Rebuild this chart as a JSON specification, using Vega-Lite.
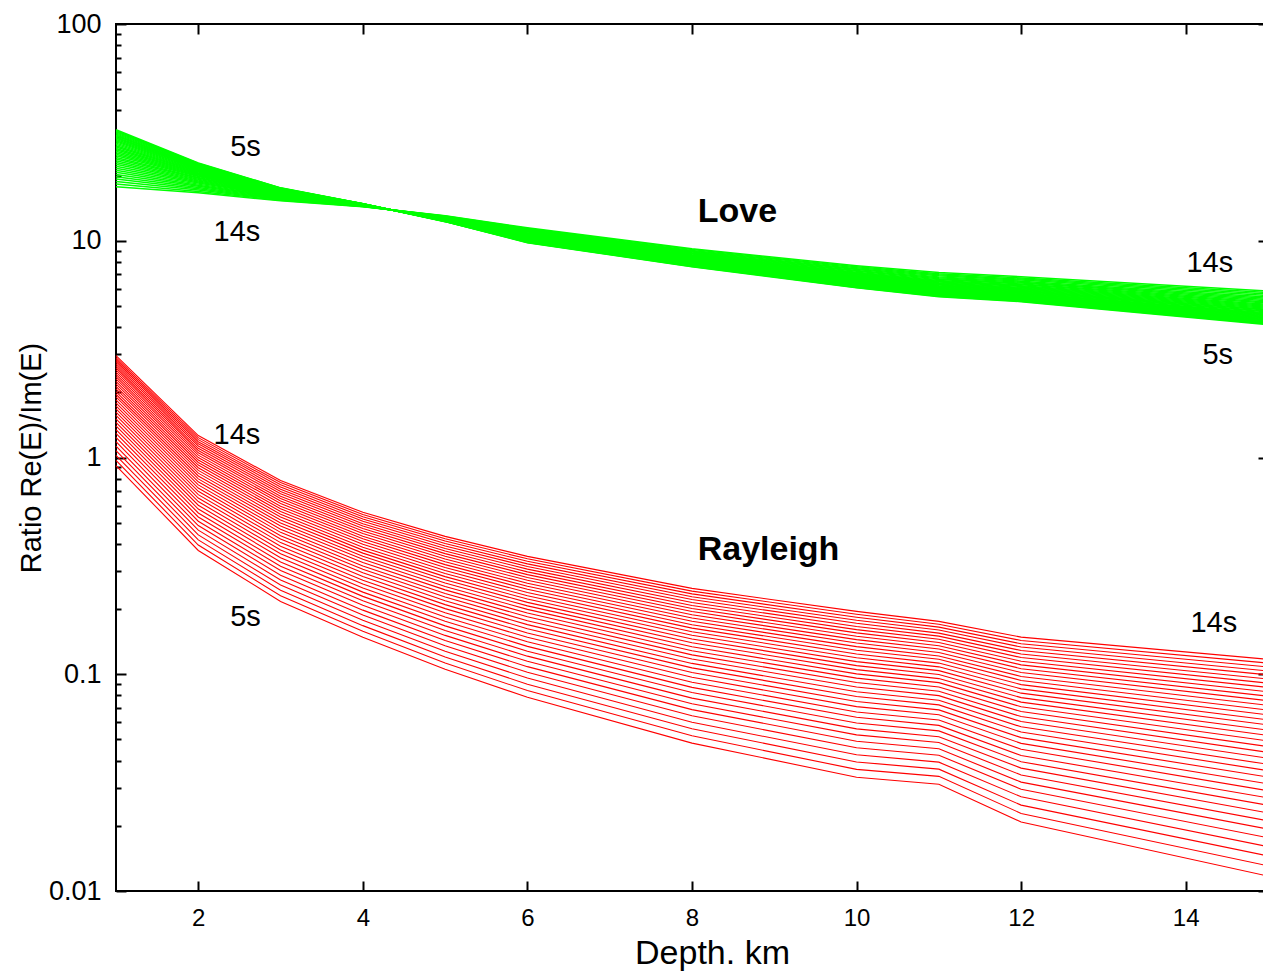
{
"$schema": "https://vega.github.io/schema/vega-lite/v6.json",
"width": 1152,
"height": 867,
"autosize": {"type": "none"},
"padding": {"left": 116, "top": 24, "right": -5, "bottom": 85},
"background": "white",
"config": {
  "view": {"stroke": "#000000", "strokeWidth": 2},
  "font": "Liberation Sans",
  "axis": {"domain": false, "grid": false, "tickColor": "#000000", "tickWidth": 2, "labelColor": "#000000", "titleColor": "#000000", "labelFont": "Liberation Sans", "titleFont": "Liberation Sans", "titleFontWeight": "normal", "labelFlush": false, "labelOverlap": false},
  "text": {"font": "Liberation Sans", "color": "#000000"}
},
"datasets": {
"curves": [
{"T":5,"d":1,"L":32.54,"R":0.918},{"T":5.25,"d":1,"L":32.17,"R":0.97},{"T":5.5,"d":1,"L":31.82,"R":1.023},{"T":5.75,"d":1,"L":31.47,"R":1.076},{"T":6,"d":1,"L":31.12,"R":1.129},{"T":6.25,"d":1,"L":30.77,"R":1.183},{"T":6.5,"d":1,"L":30.41,"R":1.237},{"T":6.75,"d":1,"L":30.05,"R":1.291},{"T":7,"d":1,"L":29.69,"R":1.345},{"T":7.25,"d":1,"L":29.32,"R":1.4},{"T":7.5,"d":1,"L":28.95,"R":1.454},{"T":7.75,"d":1,"L":28.58,"R":1.509},{"T":8,"d":1,"L":28.21,"R":1.564},{"T":8.25,"d":1,"L":27.83,"R":1.62},{"T":8.5,"d":1,"L":27.45,"R":1.676},{"T":8.75,"d":1,"L":27.06,"R":1.732},{"T":9,"d":1,"L":26.67,"R":1.788},{"T":9.25,"d":1,"L":26.28,"R":1.844},{"T":9.5,"d":1,"L":25.88,"R":1.902},{"T":9.75,"d":1,"L":25.48,"R":1.958},{"T":10,"d":1,"L":25.07,"R":2.015},{"T":10.25,"d":1,"L":24.66,"R":2.073},{"T":10.5,"d":1,"L":24.24,"R":2.13},{"T":10.75,"d":1,"L":23.82,"R":2.188},{"T":11,"d":1,"L":23.39,"R":2.245},{"T":11.25,"d":1,"L":22.96,"R":2.303},{"T":11.5,"d":1,"L":22.52,"R":2.361},{"T":11.75,"d":1,"L":22.08,"R":2.419},{"T":12,"d":1,"L":21.62,"R":2.478},{"T":12.25,"d":1,"L":21.17,"R":2.536},{"T":12.5,"d":1,"L":20.7,"R":2.595},{"T":12.75,"d":1,"L":20.23,"R":2.655},{"T":13,"d":1,"L":19.75,"R":2.713},{"T":13.25,"d":1,"L":19.26,"R":2.773},{"T":13.5,"d":1,"L":18.77,"R":2.832},{"T":13.75,"d":1,"L":18.26,"R":2.891},{"T":14,"d":1,"L":17.74,"R":2.951},
{"T":5,"d":2,"L":22.86,"R":0.3724},{"T":5.25,"d":2,"L":22.73,"R":0.3946},{"T":5.5,"d":2,"L":22.6,"R":0.4169},{"T":5.75,"d":2,"L":22.47,"R":0.4394},{"T":6,"d":2,"L":22.34,"R":0.4623},{"T":6.25,"d":2,"L":22.21,"R":0.4852},{"T":6.5,"d":2,"L":22.07,"R":0.5081},{"T":6.75,"d":2,"L":21.93,"R":0.5315},{"T":7,"d":2,"L":21.79,"R":0.5549},{"T":7.25,"d":2,"L":21.65,"R":0.5785},{"T":7.5,"d":2,"L":21.51,"R":0.6021},{"T":7.75,"d":2,"L":21.37,"R":0.626},{"T":8,"d":2,"L":21.22,"R":0.65},{"T":8.25,"d":2,"L":21.07,"R":0.6742},{"T":8.5,"d":2,"L":20.91,"R":0.6985},{"T":8.75,"d":2,"L":20.76,"R":0.7229},{"T":9,"d":2,"L":20.6,"R":0.7475},{"T":9.25,"d":2,"L":20.44,"R":0.7721},{"T":9.5,"d":2,"L":20.28,"R":0.7969},{"T":9.75,"d":2,"L":20.11,"R":0.8219},{"T":10,"d":2,"L":19.94,"R":0.8468},{"T":10.25,"d":2,"L":19.77,"R":0.872},{"T":10.5,"d":2,"L":19.59,"R":0.8972},{"T":10.75,"d":2,"L":19.41,"R":0.9228},{"T":11,"d":2,"L":19.23,"R":0.9482},{"T":11.25,"d":2,"L":19.04,"R":0.9736},{"T":11.5,"d":2,"L":18.85,"R":0.9993},{"T":11.75,"d":2,"L":18.66,"R":1.025},{"T":12,"d":2,"L":18.45,"R":1.051},{"T":12.25,"d":2,"L":18.25,"R":1.077},{"T":12.5,"d":2,"L":18.04,"R":1.103},{"T":12.75,"d":2,"L":17.82,"R":1.13},{"T":13,"d":2,"L":17.6,"R":1.156},{"T":13.25,"d":2,"L":17.37,"R":1.182},{"T":13.5,"d":2,"L":17.14,"R":1.209},{"T":13.75,"d":2,"L":16.89,"R":1.235},{"T":14,"d":2,"L":16.63,"R":1.262},
{"T":5,"d":3,"L":17.54,"R":0.2168},{"T":5.25,"d":3,"L":17.5,"R":0.2304},{"T":5.5,"d":3,"L":17.46,"R":0.2442},{"T":5.75,"d":3,"L":17.41,"R":0.258},{"T":6,"d":3,"L":17.37,"R":0.2721},{"T":6.25,"d":3,"L":17.32,"R":0.2864},{"T":6.5,"d":3,"L":17.28,"R":0.3008},{"T":6.75,"d":3,"L":17.23,"R":0.3153},{"T":7,"d":3,"L":17.18,"R":0.3299},{"T":7.25,"d":3,"L":17.13,"R":0.3447},{"T":7.5,"d":3,"L":17.08,"R":0.3595},{"T":7.75,"d":3,"L":17.03,"R":0.3745},{"T":8,"d":3,"L":16.98,"R":0.3897},{"T":8.25,"d":3,"L":16.93,"R":0.4049},{"T":8.5,"d":3,"L":16.87,"R":0.4203},{"T":8.75,"d":3,"L":16.82,"R":0.4358},{"T":9,"d":3,"L":16.77,"R":0.4514},{"T":9.25,"d":3,"L":16.71,"R":0.4671},{"T":9.5,"d":3,"L":16.65,"R":0.4829},{"T":9.75,"d":3,"L":16.59,"R":0.4988},{"T":10,"d":3,"L":16.53,"R":0.5148},{"T":10.25,"d":3,"L":16.47,"R":0.5309},{"T":10.5,"d":3,"L":16.4,"R":0.5471},{"T":10.75,"d":3,"L":16.34,"R":0.5635},{"T":11,"d":3,"L":16.27,"R":0.5798},{"T":11.25,"d":3,"L":16.2,"R":0.5963},{"T":11.5,"d":3,"L":16.13,"R":0.6129},{"T":11.75,"d":3,"L":16.06,"R":0.6295},{"T":12,"d":3,"L":15.98,"R":0.6464},{"T":12.25,"d":3,"L":15.91,"R":0.6631},{"T":12.5,"d":3,"L":15.83,"R":0.6801},{"T":12.75,"d":3,"L":15.74,"R":0.6971},{"T":13,"d":3,"L":15.65,"R":0.7142},{"T":13.25,"d":3,"L":15.56,"R":0.7313},{"T":13.5,"d":3,"L":15.48,"R":0.7487},{"T":13.75,"d":3,"L":15.38,"R":0.7659},{"T":14,"d":3,"L":15.28,"R":0.7834},
{"T":5,"d":4,"L":14.83,"R":0.1483},{"T":5.25,"d":4,"L":14.82,"R":0.1579},{"T":5.5,"d":4,"L":14.81,"R":0.1676},{"T":5.75,"d":4,"L":14.8,"R":0.1775},{"T":6,"d":4,"L":14.8,"R":0.1875},{"T":6.25,"d":4,"L":14.79,"R":0.1976},{"T":6.5,"d":4,"L":14.78,"R":0.2079},{"T":6.75,"d":4,"L":14.77,"R":0.2182},{"T":7,"d":4,"L":14.76,"R":0.2287},{"T":7.25,"d":4,"L":14.75,"R":0.2393},{"T":7.5,"d":4,"L":14.74,"R":0.2499},{"T":7.75,"d":4,"L":14.73,"R":0.2607},{"T":8,"d":4,"L":14.72,"R":0.2716},{"T":8.25,"d":4,"L":14.71,"R":0.2826},{"T":8.5,"d":4,"L":14.7,"R":0.2937},{"T":8.75,"d":4,"L":14.69,"R":0.3049},{"T":9,"d":4,"L":14.67,"R":0.3161},{"T":9.25,"d":4,"L":14.66,"R":0.3275},{"T":9.5,"d":4,"L":14.65,"R":0.3389},{"T":9.75,"d":4,"L":14.64,"R":0.3504},{"T":10,"d":4,"L":14.62,"R":0.3621},{"T":10.25,"d":4,"L":14.61,"R":0.3738},{"T":10.5,"d":4,"L":14.6,"R":0.3856},{"T":10.75,"d":4,"L":14.58,"R":0.3975},{"T":11,"d":4,"L":14.57,"R":0.4093},{"T":11.25,"d":4,"L":14.56,"R":0.4214},{"T":11.5,"d":4,"L":14.54,"R":0.4334},{"T":11.75,"d":4,"L":14.52,"R":0.4457},{"T":12,"d":4,"L":14.51,"R":0.4579},{"T":12.25,"d":4,"L":14.49,"R":0.4702},{"T":12.5,"d":4,"L":14.47,"R":0.4826},{"T":12.75,"d":4,"L":14.46,"R":0.4951},{"T":13,"d":4,"L":14.44,"R":0.5076},{"T":13.25,"d":4,"L":14.42,"R":0.5202},{"T":13.5,"d":4,"L":14.4,"R":0.533},{"T":13.75,"d":4,"L":14.37,"R":0.5456},{"T":14,"d":4,"L":14.35,"R":0.5585},
{"T":5,"d":5,"L":12.25,"R":0.1054},{"T":5.25,"d":5,"L":12.26,"R":0.1127},{"T":5.5,"d":5,"L":12.28,"R":0.1202},{"T":5.75,"d":5,"L":12.29,"R":0.1277},{"T":6,"d":5,"L":12.31,"R":0.1354},{"T":6.25,"d":5,"L":12.32,"R":0.1432},{"T":6.5,"d":5,"L":12.33,"R":0.1511},{"T":6.75,"d":5,"L":12.35,"R":0.1591},{"T":7,"d":5,"L":12.36,"R":0.1672},{"T":7.25,"d":5,"L":12.38,"R":0.1755},{"T":7.5,"d":5,"L":12.4,"R":0.1838},{"T":7.75,"d":5,"L":12.41,"R":0.1923},{"T":8,"d":5,"L":12.43,"R":0.2008},{"T":8.25,"d":5,"L":12.45,"R":0.2095},{"T":8.5,"d":5,"L":12.46,"R":0.2182},{"T":8.75,"d":5,"L":12.48,"R":0.2271},{"T":9,"d":5,"L":12.5,"R":0.236},{"T":9.25,"d":5,"L":12.52,"R":0.2451},{"T":9.5,"d":5,"L":12.54,"R":0.2542},{"T":9.75,"d":5,"L":12.56,"R":0.2634},{"T":10,"d":5,"L":12.58,"R":0.2727},{"T":10.25,"d":5,"L":12.6,"R":0.2821},{"T":10.5,"d":5,"L":12.62,"R":0.2915},{"T":10.75,"d":5,"L":12.65,"R":0.3012},{"T":11,"d":5,"L":12.67,"R":0.3107},{"T":11.25,"d":5,"L":12.7,"R":0.3205},{"T":11.5,"d":5,"L":12.72,"R":0.3303},{"T":11.75,"d":5,"L":12.75,"R":0.3402},{"T":12,"d":5,"L":12.77,"R":0.3501},{"T":12.25,"d":5,"L":12.8,"R":0.3602},{"T":12.5,"d":5,"L":12.83,"R":0.3703},{"T":12.75,"d":5,"L":12.86,"R":0.3805},{"T":13,"d":5,"L":12.89,"R":0.3908},{"T":13.25,"d":5,"L":12.93,"R":0.4011},{"T":13.5,"d":5,"L":12.96,"R":0.4115},{"T":13.75,"d":5,"L":13.0,"R":0.422},{"T":14,"d":5,"L":13.04,"R":0.4325},
{"T":5,"d":6,"L":9.795,"R":0.0783},{"T":5.25,"d":6,"L":9.82,"R":0.0841},{"T":5.5,"d":6,"L":9.85,"R":0.09},{"T":5.75,"d":6,"L":9.88,"R":0.096},{"T":6,"d":6,"L":9.91,"R":0.1021},{"T":6.25,"d":6,"L":9.94,"R":0.1084},{"T":6.5,"d":6,"L":9.968,"R":0.1147},{"T":6.75,"d":6,"L":9.999,"R":0.1212},{"T":7,"d":6,"L":10.03,"R":0.1278},{"T":7.25,"d":6,"L":10.06,"R":0.1345},{"T":7.5,"d":6,"L":10.1,"R":0.1413},{"T":7.75,"d":6,"L":10.13,"R":0.1481},{"T":8,"d":6,"L":10.17,"R":0.1551},{"T":8.25,"d":6,"L":10.2,"R":0.1623},{"T":8.5,"d":6,"L":10.24,"R":0.1694},{"T":8.75,"d":6,"L":10.28,"R":0.1767},{"T":9,"d":6,"L":10.32,"R":0.1841},{"T":9.25,"d":6,"L":10.36,"R":0.1916},{"T":9.5,"d":6,"L":10.4,"R":0.1992},{"T":9.75,"d":6,"L":10.44,"R":0.2068},{"T":10,"d":6,"L":10.49,"R":0.2146},{"T":10.25,"d":6,"L":10.53,"R":0.2224},{"T":10.5,"d":6,"L":10.58,"R":0.2304},{"T":10.75,"d":6,"L":10.63,"R":0.2384},{"T":11,"d":6,"L":10.68,"R":0.2466},{"T":11.25,"d":6,"L":10.73,"R":0.2546},{"T":11.5,"d":6,"L":10.79,"R":0.2629},{"T":11.75,"d":6,"L":10.84,"R":0.2713},{"T":12,"d":6,"L":10.9,"R":0.2797},{"T":12.25,"d":6,"L":10.96,"R":0.2882},{"T":12.5,"d":6,"L":11.03,"R":0.2967},{"T":12.75,"d":6,"L":11.09,"R":0.3055},{"T":13,"d":6,"L":11.16,"R":0.3142},{"T":13.25,"d":6,"L":11.24,"R":0.323},{"T":13.5,"d":6,"L":11.31,"R":0.332},{"T":13.75,"d":6,"L":11.4,"R":0.3409},{"T":14,"d":6,"L":11.48,"R":0.3499},
{"T":5,"d":8,"L":7.586,"R":0.0481},{"T":5.25,"d":8,"L":7.611,"R":0.052},{"T":5.5,"d":8,"L":7.637,"R":0.056},{"T":5.75,"d":8,"L":7.664,"R":0.0601},{"T":6,"d":8,"L":7.691,"R":0.0643},{"T":6.25,"d":8,"L":7.719,"R":0.0687},{"T":6.5,"d":8,"L":7.747,"R":0.0731},{"T":6.75,"d":8,"L":7.776,"R":0.0776},{"T":7,"d":8,"L":7.806,"R":0.0823},{"T":7.25,"d":8,"L":7.837,"R":0.087},{"T":7.5,"d":8,"L":7.868,"R":0.0919},{"T":7.75,"d":8,"L":7.9,"R":0.0968},{"T":8,"d":8,"L":7.933,"R":0.1018},{"T":8.25,"d":8,"L":7.967,"R":0.107},{"T":8.5,"d":8,"L":8.002,"R":0.1122},{"T":8.75,"d":8,"L":8.038,"R":0.1175},{"T":9,"d":8,"L":8.075,"R":0.1229},{"T":9.25,"d":8,"L":8.113,"R":0.1284},{"T":9.5,"d":8,"L":8.152,"R":0.134},{"T":9.75,"d":8,"L":8.193,"R":0.1397},{"T":10,"d":8,"L":8.234,"R":0.1454},{"T":10.25,"d":8,"L":8.278,"R":0.1513},{"T":10.5,"d":8,"L":8.322,"R":0.1572},{"T":10.75,"d":8,"L":8.368,"R":0.1633},{"T":11,"d":8,"L":8.416,"R":0.1693},{"T":11.25,"d":8,"L":8.466,"R":0.1755},{"T":11.5,"d":8,"L":8.518,"R":0.1818},{"T":11.75,"d":8,"L":8.572,"R":0.1881},{"T":12,"d":8,"L":8.628,"R":0.1946},{"T":12.25,"d":8,"L":8.686,"R":0.2011},{"T":12.5,"d":8,"L":8.747,"R":0.2077},{"T":12.75,"d":8,"L":8.811,"R":0.2144},{"T":13,"d":8,"L":8.878,"R":0.2211},{"T":13.25,"d":8,"L":8.948,"R":0.2279},{"T":13.5,"d":8,"L":9.022,"R":0.2348},{"T":13.75,"d":8,"L":9.101,"R":0.2418},{"T":14,"d":8,"L":9.183,"R":0.2489},
{"T":5,"d":10,"L":6.067,"R":0.0335},{"T":5.25,"d":10,"L":6.092,"R":0.0364},{"T":5.5,"d":10,"L":6.117,"R":0.0394},{"T":5.75,"d":10,"L":6.144,"R":0.0425},{"T":6,"d":10,"L":6.17,"R":0.0458},{"T":6.25,"d":10,"L":6.198,"R":0.0491},{"T":6.5,"d":10,"L":6.226,"R":0.0525},{"T":6.75,"d":10,"L":6.255,"R":0.056},{"T":7,"d":10,"L":6.284,"R":0.0596},{"T":7.25,"d":10,"L":6.314,"R":0.0633},{"T":7.5,"d":10,"L":6.345,"R":0.067},{"T":7.75,"d":10,"L":6.377,"R":0.0709},{"T":8,"d":10,"L":6.41,"R":0.0749},{"T":8.25,"d":10,"L":6.444,"R":0.0789},{"T":8.5,"d":10,"L":6.478,"R":0.083},{"T":8.75,"d":10,"L":6.514,"R":0.0873},{"T":9,"d":10,"L":6.551,"R":0.0916},{"T":9.25,"d":10,"L":6.589,"R":0.096},{"T":9.5,"d":10,"L":6.628,"R":0.1004},{"T":9.75,"d":10,"L":6.669,"R":0.105},{"T":10,"d":10,"L":6.71,"R":0.1096},{"T":10.25,"d":10,"L":6.754,"R":0.1144},{"T":10.5,"d":10,"L":6.798,"R":0.1192},{"T":10.75,"d":10,"L":6.845,"R":0.1241},{"T":11,"d":10,"L":6.893,"R":0.1291},{"T":11.25,"d":10,"L":6.943,"R":0.1341},{"T":11.5,"d":10,"L":6.995,"R":0.1393},{"T":11.75,"d":10,"L":7.05,"R":0.1445},{"T":12,"d":10,"L":7.106,"R":0.1498},{"T":12.25,"d":10,"L":7.165,"R":0.1552},{"T":12.5,"d":10,"L":7.227,"R":0.1606},{"T":12.75,"d":10,"L":7.292,"R":0.1662},{"T":13,"d":10,"L":7.361,"R":0.1718},{"T":13.25,"d":10,"L":7.432,"R":0.1775},{"T":13.5,"d":10,"L":7.508,"R":0.1832},{"T":13.75,"d":10,"L":7.588,"R":0.1891},{"T":14,"d":10,"L":7.673,"R":0.195},
{"T":5,"d":11,"L":5.521,"R":0.0311},{"T":5.25,"d":11,"L":5.546,"R":0.0338},{"T":5.5,"d":11,"L":5.571,"R":0.0365},{"T":5.75,"d":11,"L":5.597,"R":0.0393},{"T":6,"d":11,"L":5.624,"R":0.0423},{"T":6.25,"d":11,"L":5.651,"R":0.0453},{"T":6.5,"d":11,"L":5.679,"R":0.0484},{"T":6.75,"d":11,"L":5.707,"R":0.0515},{"T":7,"d":11,"L":5.736,"R":0.0548},{"T":7.25,"d":11,"L":5.767,"R":0.0581},{"T":7.5,"d":11,"L":5.797,"R":0.0615},{"T":7.75,"d":11,"L":5.829,"R":0.065},{"T":8,"d":11,"L":5.862,"R":0.0685},{"T":8.25,"d":11,"L":5.895,"R":0.0722},{"T":8.5,"d":11,"L":5.93,"R":0.0759},{"T":8.75,"d":11,"L":5.965,"R":0.0797},{"T":9,"d":11,"L":6.002,"R":0.0835},{"T":9.25,"d":11,"L":6.04,"R":0.0874},{"T":9.5,"d":11,"L":6.079,"R":0.0915},{"T":9.75,"d":11,"L":6.119,"R":0.0955},{"T":10,"d":11,"L":6.161,"R":0.0997},{"T":10.25,"d":11,"L":6.204,"R":0.1039},{"T":10.5,"d":11,"L":6.249,"R":0.1082},{"T":10.75,"d":11,"L":6.295,"R":0.1126},{"T":11,"d":11,"L":6.344,"R":0.1172},{"T":11.25,"d":11,"L":6.394,"R":0.1215},{"T":11.5,"d":11,"L":6.446,"R":0.126},{"T":11.75,"d":11,"L":6.501,"R":0.1307},{"T":12,"d":11,"L":6.558,"R":0.1354},{"T":12.25,"d":11,"L":6.617,"R":0.1401},{"T":12.5,"d":11,"L":6.679,"R":0.145},{"T":12.75,"d":11,"L":6.745,"R":0.1499},{"T":13,"d":11,"L":6.813,"R":0.1548},{"T":13.25,"d":11,"L":6.886,"R":0.1599},{"T":13.5,"d":11,"L":6.962,"R":0.165},{"T":13.75,"d":11,"L":7.043,"R":0.1702},{"T":14,"d":11,"L":7.129,"R":0.1754},
{"T":5,"d":12,"L":5.236,"R":0.0208},{"T":5.25,"d":12,"L":5.26,"R":0.0228},{"T":5.5,"d":12,"L":5.285,"R":0.0249},{"T":5.75,"d":12,"L":5.311,"R":0.0272},{"T":6,"d":12,"L":5.337,"R":0.0295},{"T":6.25,"d":12,"L":5.363,"R":0.0318},{"T":6.5,"d":12,"L":5.391,"R":0.0343},{"T":6.75,"d":12,"L":5.419,"R":0.0369},{"T":7,"d":12,"L":5.448,"R":0.0395},{"T":7.25,"d":12,"L":5.477,"R":0.0422},{"T":7.5,"d":12,"L":5.508,"R":0.0451},{"T":7.75,"d":12,"L":5.539,"R":0.048},{"T":8,"d":12,"L":5.571,"R":0.051},{"T":8.25,"d":12,"L":5.604,"R":0.0541},{"T":8.5,"d":12,"L":5.638,"R":0.0572},{"T":8.75,"d":12,"L":5.673,"R":0.0605},{"T":9,"d":12,"L":5.709,"R":0.0638},{"T":9.25,"d":12,"L":5.747,"R":0.0673},{"T":9.5,"d":12,"L":5.785,"R":0.0708},{"T":9.75,"d":12,"L":5.825,"R":0.0744},{"T":10,"d":12,"L":5.866,"R":0.078},{"T":10.25,"d":12,"L":5.909,"R":0.0818},{"T":10.5,"d":12,"L":5.953,"R":0.0856},{"T":10.75,"d":12,"L":5.999,"R":0.0896},{"T":11,"d":12,"L":6.047,"R":0.0936},{"T":11.25,"d":12,"L":6.096,"R":0.0977},{"T":11.5,"d":12,"L":6.148,"R":0.1019},{"T":11.75,"d":12,"L":6.202,"R":0.1061},{"T":12,"d":12,"L":6.258,"R":0.1105},{"T":12.25,"d":12,"L":6.317,"R":0.1149},{"T":12.5,"d":12,"L":6.378,"R":0.1194},{"T":12.75,"d":12,"L":6.443,"R":0.124},{"T":13,"d":12,"L":6.511,"R":0.1287},{"T":13.25,"d":12,"L":6.583,"R":0.1335},{"T":13.5,"d":12,"L":6.658,"R":0.1383},{"T":13.75,"d":12,"L":6.738,"R":0.1432},{"T":14,"d":12,"L":6.823,"R":0.1483},
{"T":5,"d":15,"L":4.102,"R":0.01172},{"T":5.25,"d":15,"L":4.128,"R":0.01307},{"T":5.5,"d":15,"L":4.154,"R":0.01451},{"T":5.75,"d":15,"L":4.181,"R":0.01602},{"T":6,"d":15,"L":4.209,"R":0.01762},{"T":6.25,"d":15,"L":4.237,"R":0.01931},{"T":6.5,"d":15,"L":4.266,"R":0.02108},{"T":6.75,"d":15,"L":4.296,"R":0.02294},{"T":7,"d":15,"L":4.327,"R":0.02488},{"T":7.25,"d":15,"L":4.359,"R":0.02691},{"T":7.5,"d":15,"L":4.392,"R":0.02903},{"T":7.75,"d":15,"L":4.425,"R":0.03123},{"T":8,"d":15,"L":4.46,"R":0.03354},{"T":8.25,"d":15,"L":4.495,"R":0.03593},{"T":8.5,"d":15,"L":4.532,"R":0.03841},{"T":8.75,"d":15,"L":4.57,"R":0.04097},{"T":9,"d":15,"L":4.609,"R":0.04364},{"T":9.25,"d":15,"L":4.65,"R":0.0464},{"T":9.5,"d":15,"L":4.692,"R":0.04925},{"T":9.75,"d":15,"L":4.736,"R":0.05219},{"T":10,"d":15,"L":4.781,"R":0.05523},{"T":10.25,"d":15,"L":4.828,"R":0.05837},{"T":10.5,"d":15,"L":4.876,"R":0.0616},{"T":10.75,"d":15,"L":4.927,"R":0.06494},{"T":11,"d":15,"L":4.98,"R":0.06837},{"T":11.25,"d":15,"L":5.035,"R":0.07188},{"T":11.5,"d":15,"L":5.093,"R":0.07549},{"T":11.75,"d":15,"L":5.153,"R":0.07921},{"T":12,"d":15,"L":5.216,"R":0.08304},{"T":12.25,"d":15,"L":5.282,"R":0.08696},{"T":12.5,"d":15,"L":5.352,"R":0.09097},{"T":12.75,"d":15,"L":5.425,"R":0.09511},{"T":13,"d":15,"L":5.502,"R":0.09931},{"T":13.25,"d":15,"L":5.584,"R":0.1036},{"T":13.5,"d":15,"L":5.671,"R":0.1081},{"T":13.75,"d":15,"L":5.763,"R":0.1126},{"T":14,"d":15,"L":5.861,"R":0.1172}
],
"periods": [
{"x":2.574,"y":27.2,"t":"5s"},{"x":2.47,"y":11.01,"t":"14s"},{"x":14.293,"y":7.92,"t":"14s"},{"x":14.39,"y":2.98,"t":"5s"},{"x":2.47,"y":1.274,"t":"14s"},{"x":2.574,"y":0.1843,"t":"5s"},{"x":14.341,"y":0.1729,"t":"14s"}
],
"waves": [
{"x":8.553,"y":13.6,"t":"Love"},{"x":8.93,"y":0.3748,"t":"Rayleigh"}
]
},
"resolve": {"axis": {"x": "independent", "y": "independent"}},
"layer": [
{
  "data": {"name": "curves"},
  "mark": {"type": "line", "color": "#ff0000", "strokeWidth": 1.1},
  "encoding": {
    "x": {"field": "d", "type": "quantitative", "scale": {"domain": [1, 15], "nice": false, "zero": false},
      "axis": {"orient": "bottom", "values": [2, 4, 6, 8, 10, 12, 14], "offset": -10, "tickSize": 10, "labelFontSize": 24, "labelPadding": 15, "title": "Depth. km", "titleFontSize": 34, "titleX": 596, "titleY": 82, "titleBaseline": "alphabetic", "titleAlign": "center"}},
    "y": {"field": "R", "type": "quantitative", "scale": {"type": "log", "domain": [0.01, 100], "nice": false},
      "axis": {"orient": "left", "values": [0.01, 0.1, 1, 10, 100], "format": "~g", "offset": -10, "tickSize": 10, "labelFontSize": 27, "labelPadding": 15, "title": "Ratio Re(E)/Im(E)", "titleFontSize": 29, "titleX": -86, "titleY": 433.5, "titleBaseline": "alphabetic", "titleAlign": "center", "titleAngle": 270}},
    "detail": {"field": "T", "type": "quantitative"}
  }
},
{
  "data": {"name": "curves"},
  "mark": {"type": "line", "color": "#00ff00", "strokeWidth": 1.5},
  "encoding": {
    "x": {"field": "d", "type": "quantitative", "scale": {"domain": [1, 15], "nice": false, "zero": false},
      "axis": {"orient": "top", "values": [2, 4, 6, 8, 10, 12, 14], "offset": -10, "tickSize": 10, "labels": false, "title": null}},
    "y": {"field": "L", "type": "quantitative", "scale": {"type": "log", "domain": [0.01, 100], "nice": false},
      "axis": {"orient": "right", "values": [0.01, 0.1, 1, 10, 100], "offset": -10, "tickSize": 10, "labels": false, "title": null}},
    "detail": {"field": "T", "type": "quantitative"}
  }
},
{
  "data": {"name": "periods"},
  "mark": {"type": "text", "fontSize": 29, "align": "center", "baseline": "middle"},
  "encoding": {
    "x": {"field": "x", "type": "quantitative", "scale": {"domain": [1, 15], "nice": false, "zero": false}, "axis": null},
    "y": {"field": "y", "type": "quantitative", "scale": {"type": "log", "domain": [0.01, 100], "nice": false},
      "axis": {"orient": "left", "values": [0.02,0.03,0.04,0.05,0.06,0.07,0.08,0.09,0.2,0.3,0.4,0.5,0.6,0.7,0.8,0.9,2,3,4,5,6,7,8,9,20,30,40,50,60,70,80,90], "offset": -5, "tickSize": 5, "labels": false, "title": null}},
    "text": {"field": "t", "type": "nominal"}
  }
},
{
  "data": {"name": "waves"},
  "mark": {"type": "text", "fontSize": 34, "fontWeight": "bold", "align": "center", "baseline": "middle"},
  "encoding": {
    "x": {"field": "x", "type": "quantitative", "scale": {"domain": [1, 15], "nice": false, "zero": false}, "axis": null},
    "y": {"field": "y", "type": "quantitative", "scale": {"type": "log", "domain": [0.01, 100], "nice": false},
      "axis": {"orient": "right", "values": [0.02,0.03,0.04,0.05,0.06,0.07,0.08,0.09,0.2,0.3,0.4,0.5,0.6,0.7,0.8,0.9,2,3,4,5,6,7,8,9,20,30,40,50,60,70,80,90], "offset": -5, "tickSize": 5, "labels": false, "title": null}},
    "text": {"field": "t", "type": "nominal"}
  }
}
]
}
